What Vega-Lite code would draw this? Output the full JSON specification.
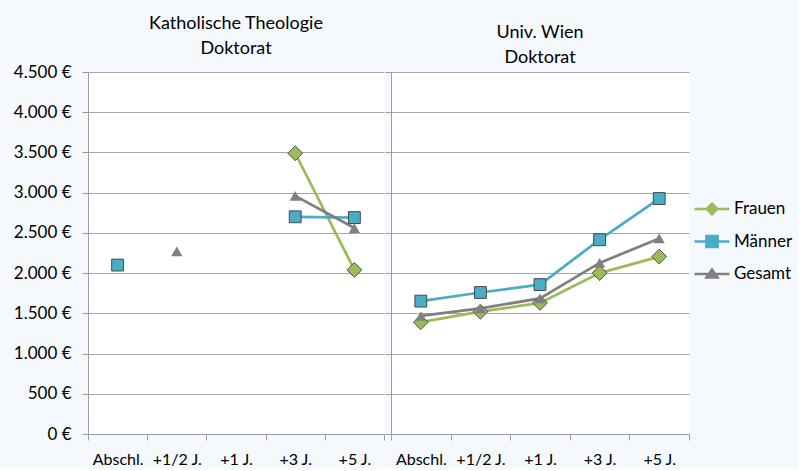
{
  "$schema": "https://vega.github.io/schema/vega-lite/v6.json",
  "background": "#F5F8FC",
  "padding": {"left": 10, "top": 15, "right": 5, "bottom": 2},
  "spacing": 7,
  "bounds": "flush",
  "data": {"values": [
    {"panel": "Kath", "series": "Frauen", "period": "Abschl.", "value": null},
    {"panel": "Kath", "series": "Frauen", "period": "+1/2 J.", "value": null},
    {"panel": "Kath", "series": "Frauen", "period": "+1 J.", "value": null},
    {"panel": "Kath", "series": "Frauen", "period": "+3 J.", "value": 3490},
    {"panel": "Kath", "series": "Frauen", "period": "+5 J.", "value": 2040},
    {"panel": "Kath", "series": "Männer", "period": "Abschl.", "value": 2100},
    {"panel": "Kath", "series": "Männer", "period": "+1/2 J.", "value": null},
    {"panel": "Kath", "series": "Männer", "period": "+1 J.", "value": null},
    {"panel": "Kath", "series": "Männer", "period": "+3 J.", "value": 2700},
    {"panel": "Kath", "series": "Männer", "period": "+5 J.", "value": 2690},
    {"panel": "Kath", "series": "Gesamt", "period": "Abschl.", "value": null},
    {"panel": "Kath", "series": "Gesamt", "period": "+1/2 J.", "value": 2270},
    {"panel": "Kath", "series": "Gesamt", "period": "+1 J.", "value": null},
    {"panel": "Kath", "series": "Gesamt", "period": "+3 J.", "value": 2960},
    {"panel": "Kath", "series": "Gesamt", "period": "+5 J.", "value": 2560},
    {"panel": "Wien", "series": "Frauen", "period": "Abschl.", "value": 1390},
    {"panel": "Wien", "series": "Frauen", "period": "+1/2 J.", "value": 1520},
    {"panel": "Wien", "series": "Frauen", "period": "+1 J.", "value": 1630},
    {"panel": "Wien", "series": "Frauen", "period": "+3 J.", "value": 2000},
    {"panel": "Wien", "series": "Frauen", "period": "+5 J.", "value": 2205},
    {"panel": "Wien", "series": "Männer", "period": "Abschl.", "value": 1652},
    {"panel": "Wien", "series": "Männer", "period": "+1/2 J.", "value": 1759},
    {"panel": "Wien", "series": "Männer", "period": "+1 J.", "value": 1857},
    {"panel": "Wien", "series": "Männer", "period": "+3 J.", "value": 2415},
    {"panel": "Wien", "series": "Männer", "period": "+5 J.", "value": 2927},
    {"panel": "Wien", "series": "Gesamt", "period": "Abschl.", "value": 1467},
    {"panel": "Wien", "series": "Gesamt", "period": "+1/2 J.", "value": 1562},
    {"panel": "Wien", "series": "Gesamt", "period": "+1 J.", "value": 1685},
    {"panel": "Wien", "series": "Gesamt", "period": "+3 J.", "value": 2127},
    {"panel": "Wien", "series": "Gesamt", "period": "+5 J.", "value": 2431}
  ]},
  "resolve": {"scale": {"y": "shared", "color": "shared"}},
  "config": {
    "font": "Lato",
    "view": {"fill": "white", "stroke": null}
  },
  "hconcat": [
    {
      "width": 296, "height": 362,
      "title": {"text": ["Katholische Theologie", "Doktorat"], "font": "Lato", "fontSize": 18, "fontWeight": "normal", "color": "#000000", "anchor": "middle", "lineHeight": 25, "offset": 5},
      "transform": [{"filter": "datum.panel === 'Kath'"}],
      "encoding": {
        "x": {"field": "period", "type": "ordinal", "sort": ["Abschl.", "+1/2 J.", "+1 J.", "+3 J.", "+5 J."],
              "scale": {"type": "band", "paddingInner": 0, "paddingOuter": 0},
              "axis": {"title": null, "tickBand": "extent", "grid": false, "tickSize": 6, "labelPadding": 11, "labelAngle": 0, "labelFont": "Lato", "labelFontSize": 16, "labelColor": "#000000", "domainColor": "#9d9d9d", "tickColor": "#9d9d9d"}},
        "y": {"field": "value", "type": "quantitative", "scale": {"domain": [0, 4500]},
              "axis": {"title": null, "values": [0, 500, 1000, 1500, 2000, 2500, 3000, 3500, 4000, 4500], "labelExpr": "replace(format(datum.value, ',d'), ',', '.') + ' €'", "tickSize": 6, "labelPadding": 11, "grid": true, "minExtent": 78, "maxExtent": 78, "labelFont": "Lato", "labelFontSize": 17, "labelColor": "#000000", "domainColor": "#9d9d9d", "tickColor": "#9d9d9d", "gridColor": "#a6a6a6", "gridOpacity": 1}},
        "color": {"field": "series", "type": "nominal", "scale": {"domain": ["Frauen", "Männer", "Gesamt"], "range": ["#9BBB59", "#4BACC6", "#808080"]},
                  "legend": {"title": null, "orient": "none", "legendX": 605, "legendY": 118, "symbolSize": 1225, "rowPadding": 2.5, "labelOffset": 3, "labelFont": "Lato", "labelFontSize": 17, "labelColor": "#000000",
                    "encode": {"symbols": {"update": {
                      "shape": {"signal": "datum.value === 'Frauen' ? 'M-1,0H-0.3M0.3,0H1M0,-0.3L0.3,0L0,0.3L-0.3,0Z' : datum.value === 'Männer' ? 'M-1,0H-0.32M0.32,0H1M-0.32,-0.32H0.32V0.32H-0.32Z' : 'M-1,0H1M0,-0.26L0.32,0.2L-0.32,0.2Z'"},
                      "fill": {"signal": "scale('color', datum.value)"},
                      "stroke": {"signal": "scale('color', datum.value)"},
                      "strokeWidth": {"value": 2.5},
                      "opacity": {"value": 1},
                      "fillOpacity": {"value": 1},
                      "strokeOpacity": {"value": 1}
                    }}}}}
      },
      "layer": [
        {"mark": {"type": "line", "strokeWidth": 2.75, "invalid": "break-paths-filter-domains"}},
        {"transform": [{"filter": "datum.series === 'Frauen' && isValid(datum.value)"}],
         "mark": {"type": "point", "shape": "diamond", "size": 220, "filled": true, "opacity": 1, "stroke": "#505050", "strokeWidth": 1, "strokeOpacity": 1}},
        {"transform": [{"filter": "datum.series === 'Männer' && isValid(datum.value)"}],
         "mark": {"type": "point", "shape": "square", "size": 140, "filled": true, "opacity": 1, "stroke": "#404a50", "strokeWidth": 1, "strokeOpacity": 1}},
        {"transform": [{"filter": "datum.series === 'Gesamt' && isValid(datum.value)"}],
         "mark": {"type": "point", "shape": "triangle-up", "size": 125, "filled": true, "opacity": 1, "strokeWidth": 0}}
      ]
    },
    {
      "width": 298, "height": 362,
      "title": {"text": ["Univ. Wien", "Doktorat"], "font": "Lato", "fontSize": 18, "fontWeight": "normal", "color": "#000000", "anchor": "middle", "lineHeight": 25, "offset": 5},
      "transform": [{"filter": "datum.panel === 'Wien'"}],
      "encoding": {
        "x": {"field": "period", "type": "ordinal", "sort": ["Abschl.", "+1/2 J.", "+1 J.", "+3 J.", "+5 J."],
              "scale": {"type": "band", "paddingInner": 0, "paddingOuter": 0},
              "axis": {"title": null, "tickBand": "extent", "grid": false, "tickSize": 6, "labelPadding": 11, "labelAngle": 0, "labelFont": "Lato", "labelFontSize": 16, "labelColor": "#000000", "domainColor": "#9d9d9d", "tickColor": "#9d9d9d"}},
        "y": {"field": "value", "type": "quantitative", "scale": {"domain": [0, 4500]},
              "axis": {"title": null, "values": [0, 500, 1000, 1500, 2000, 2500, 3000, 3500, 4000, 4500], "labels": false, "tickSize": 6, "grid": true, "domainColor": "#9d9d9d", "tickColor": "#9d9d9d", "gridColor": "#a6a6a6", "gridOpacity": 1}},
        "color": {"field": "series", "type": "nominal", "scale": {"domain": ["Frauen", "Männer", "Gesamt"], "range": ["#9BBB59", "#4BACC6", "#808080"]}}
      },
      "layer": [
        {"mark": {"type": "line", "strokeWidth": 2.75, "invalid": "break-paths-filter-domains"}},
        {"transform": [{"filter": "datum.series === 'Frauen' && isValid(datum.value)"}],
         "mark": {"type": "point", "shape": "diamond", "size": 220, "filled": true, "opacity": 1, "stroke": "#505050", "strokeWidth": 1, "strokeOpacity": 1}},
        {"transform": [{"filter": "datum.series === 'Männer' && isValid(datum.value)"}],
         "mark": {"type": "point", "shape": "square", "size": 140, "filled": true, "opacity": 1, "stroke": "#404a50", "strokeWidth": 1, "strokeOpacity": 1}},
        {"transform": [{"filter": "datum.series === 'Gesamt' && isValid(datum.value)"}],
         "mark": {"type": "point", "shape": "triangle-up", "size": 125, "filled": true, "opacity": 1, "strokeWidth": 0}}
      ]
    }
  ]
}
